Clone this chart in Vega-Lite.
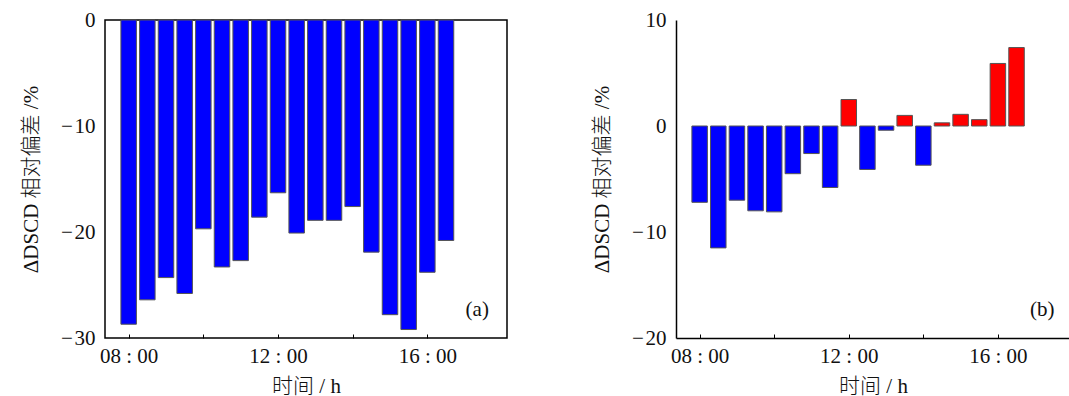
{
  "$schema": "https://vega.github.io/schema/vega-lite/v6.json",
  "padding": {"left": 19, "top": 8, "right": 0, "bottom": 0},
  "spacing": 83,
  "config": {
    "font": "'Liberation Serif', 'Noto Sans CJK SC'",
    "view": {"stroke": "#000000", "strokeWidth": 1.5},
    "axis": {
      "labelFont": "'Liberation Serif'",
      "labelFontSize": 21,
      "labelColor": "#111111",
      "titleFont": "'Liberation Serif', 'Noto Sans CJK SC'",
      "titleFontSize": 21,
      "titleFontWeight": 300,
      "titleColor": "#111111",
      "grid": false
    }
  },
  "datasets": {
    "a": [
      {"time": 8.0, "value": -28.7},
      {"time": 8.5, "value": -26.4},
      {"time": 9.0, "value": -24.3},
      {"time": 9.5, "value": -25.8},
      {"time": 10.0, "value": -19.7},
      {"time": 10.5, "value": -23.3},
      {"time": 11.0, "value": -22.7},
      {"time": 11.5, "value": -18.6},
      {"time": 12.0, "value": -16.3},
      {"time": 12.5, "value": -20.1},
      {"time": 13.0, "value": -18.9},
      {"time": 13.5, "value": -18.9},
      {"time": 14.0, "value": -17.6},
      {"time": 14.5, "value": -21.9},
      {"time": 15.0, "value": -27.8},
      {"time": 15.5, "value": -29.2},
      {"time": 16.0, "value": -23.8},
      {"time": 16.5, "value": -20.8}
    ],
    "b": [
      {"time": 8.0, "value": -7.2},
      {"time": 8.5, "value": -11.5},
      {"time": 9.0, "value": -7.0},
      {"time": 9.5, "value": -8.0},
      {"time": 10.0, "value": -8.1},
      {"time": 10.5, "value": -4.5},
      {"time": 11.0, "value": -2.6},
      {"time": 11.5, "value": -5.8},
      {"time": 12.0, "value": 2.5},
      {"time": 12.5, "value": -4.1},
      {"time": 13.0, "value": -0.4},
      {"time": 13.5, "value": 1.0},
      {"time": 14.0, "value": -3.7},
      {"time": 14.5, "value": 0.3},
      {"time": 15.0, "value": 1.1},
      {"time": 15.5, "value": 0.6},
      {"time": 16.0, "value": 5.9},
      {"time": 16.5, "value": 7.4}
    ],
    "labels_a": [{"label": "(a)", "x": 17.65, "y": -27.4}],
    "labels_b": [{"label": "(b)", "x": 17.52, "y": -17.4}]
  },
  "hconcat": [
    {
      "width": 402,
      "height": 318,
      "layer": [
        {
          "data": {"name": "a"},
          "mark": {"type": "bar", "width": 15.5, "stroke": "#555555", "strokeWidth": 1},
          "encoding": {
            "x": {
              "field": "time", "type": "quantitative",
              "scale": {"domain": [7.5, 18], "nice": false, "zero": false},
              "axis": {
                "title": "时间 / h",
                "values": [8, 10, 12, 14, 16],
                "labelExpr": "datum.value % 4 == 0 ? (datum.value < 10 ? '0' : '') + datum.value + ' : 00' : ''",
                "domain": false,
                "tickSize": -4,
                "tickColor": "#000000",
                "labelPadding": 11,
                "titlePadding": 9,
                "labelFlush": false,
                "labelOverlap": false
              }
            },
            "y": {
              "field": "value", "type": "quantitative",
              "scale": {"domain": [-30, 0], "nice": false},
              "axis": {
                "title": "ΔDSCD 相对偏差 /%",
                "values": [-30, -20, -10, 0],
                "labelExpr": "datum.value < 0 ? '−\u200a' + (-datum.value) : '' + datum.value",
                "ticks": false,
                "domain": false,
                "labelPadding": 10,
                "titlePadding": 19
              }
            },
            "fill": {"value": "#0000ff"}
          }
        },
        {
          "data": {"name": "labels_a"},
          "mark": {"type": "text", "align": "right", "baseline": "middle", "fontSize": 21, "font": "'Liberation Serif'", "color": "#111111"},
          "encoding": {
            "x": {"field": "x", "type": "quantitative"},
            "y": {"field": "y", "type": "quantitative"},
            "text": {"field": "label"}
          }
        }
      ]
    },
    {
      "width": 394,
      "height": 318,
      "view": {"stroke": null},
      "layer": [
        {
          "data": {"name": "b"},
          "mark": {"type": "bar", "width": 15.5, "stroke": "#555555", "strokeWidth": 1},
          "encoding": {
            "x": {
              "field": "time", "type": "quantitative",
              "scale": {"domain": [7.5, 17.8], "nice": false, "zero": false},
              "axis": {
                "title": "时间 / h",
                "values": [8, 10, 12, 14, 16],
                "labelExpr": "datum.value % 4 == 0 ? (datum.value < 10 ? '0' : '') + datum.value + ' : 00' : ''",
                "domain": true,
                "domainColor": "#000000",
                "domainWidth": 1.5,
                "tickSize": -4,
                "tickColor": "#000000",
                "labelPadding": 11,
                "titlePadding": 9,
                "labelFlush": false,
                "labelOverlap": false
              }
            },
            "y": {
              "field": "value", "type": "quantitative",
              "scale": {"domain": [-20, 10], "nice": false},
              "axis": {
                "title": "ΔDSCD 相对偏差 /%",
                "values": [-20, -10, 0, 10],
                "labelExpr": "datum.value < 0 ? '−\u200a' + (-datum.value) : '' + datum.value",
                "ticks": false,
                "domain": true,
                "domainColor": "#000000",
                "domainWidth": 1.5,
                "labelPadding": 10,
                "titlePadding": 19
              }
            },
            "fill": {"condition": {"test": "datum.value > 0", "value": "#ff0000"}, "value": "#0000ff"}
          }
        },
        {
          "mark": {"type": "rule", "color": "#777777", "strokeWidth": 1.5},
          "encoding": {"y": {"datum": 0}}
        },
        {
          "mark": {"type": "rule", "color": "#000000", "strokeWidth": 1.5},
          "encoding": {"y": {"datum": 10}}
        },
        {
          "data": {"name": "labels_b"},
          "mark": {"type": "text", "align": "right", "baseline": "middle", "fontSize": 21, "font": "'Liberation Serif'", "color": "#111111"},
          "encoding": {
            "x": {"field": "x", "type": "quantitative"},
            "y": {"field": "y", "type": "quantitative"},
            "text": {"field": "label"}
          }
        }
      ]
    }
  ]
}
